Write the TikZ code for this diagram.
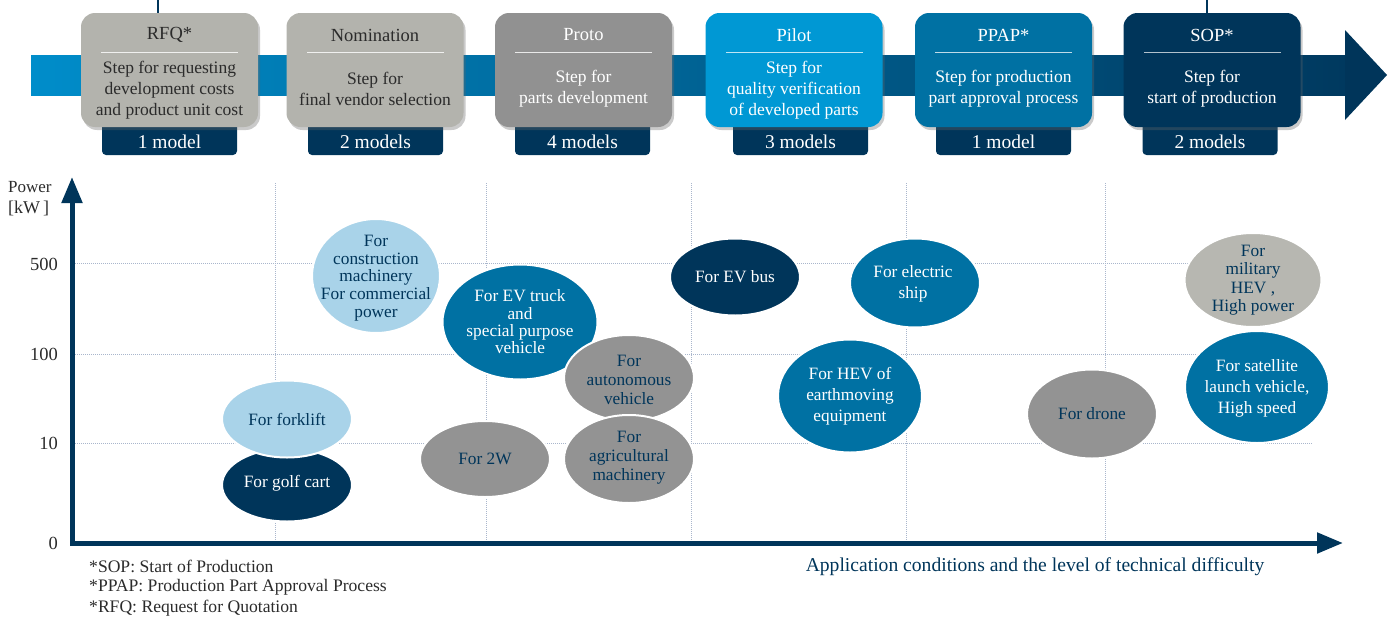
\documentclass[tikz,border=0pt]{standalone}
\usepackage{fontspec}
\setmainfont{Liberation Serif}
\usetikzlibrary{shadows,arrows.meta,shapes.geometric}

\definecolor{navy}{HTML}{00355A}
\definecolor{midblue}{HTML}{0071A3}
\definecolor{brightblue}{HTML}{0098D4}
\definecolor{paleblue}{HTML}{A9D3E9}
\definecolor{midgray}{HTML}{939393}
\definecolor{lightgray}{HTML}{B7B7B1}
\definecolor{boxgray}{HTML}{B3B3AD}
\definecolor{protogray}{HTML}{919191}
\definecolor{gridcol}{HTML}{A9B6CC}
\definecolor{inkgray}{HTML}{2B2B2B}
\definecolor{bandleft}{HTML}{008DCA}
\definecolor{bandright}{HTML}{00395F}

\begin{document}
\begin{tikzpicture}[x=1pt,y=-1pt,
  stepbox/.style={rectangle, rounded corners=14pt, minimum width=177pt,
    minimum height=114pt, inner sep=0pt,
    drop shadow={shadow xshift=2pt, shadow yshift=-3pt, opacity=0.35, fill=black!60}},
  tabbox/.style={rectangle, rounded corners=4pt, fill=navy, minimum width=135pt,
    minimum height=36pt, inner sep=0pt},
  tabtext/.style={text=white, font=\fontsize{19.5}{21}\selectfont, inner sep=0pt},
  steptitle/.style={font=\fontsize{18.5}{20}\selectfont, inner sep=0pt},
  stepbody/.style={font=\fontsize{17.5}{21}\selectfont, align=center, inner sep=0pt},
  sepline/.style={line width=1pt},
  toptick/.style={draw=navy, line width=1.2pt},
  gridline/.style={draw=gridcol, line width=0.9pt, dash pattern=on 1pt off 1pt},
  axisline/.style={draw=navy, line width=5pt, line join=miter,
    {Triangle[width=20pt,length=26pt]}-{Triangle[width=20pt,length=26pt]}},
  ell/.style={ellipse, draw=white, line width=2pt, inner sep=0pt},
  etext/.style={font=\fontsize{17.3}{19}\selectfont, align=center, inner sep=0pt},
  ticklab/.style={anchor=east, text=inkgray, font=\fontsize{18.5}{20}\selectfont, inner sep=0pt},
  note/.style={anchor=west, text=inkgray, font=\fontsize{17.6}{19}\selectfont, inner sep=0pt}
]
\useasboundingbox (0,0) rectangle (1392,621);

% ---------- process band ----------
\shade[left color=bandleft, right color=bandright] (31,55) rectangle (1346,95);
\fill[navy] (1345,30) -- (1387,75) -- (1345,120) -- cycle;

% ---------- model count tabs ----------
\node[tabbox] (tab1) at (169.5,137) {};
\node[tabbox] (tab2) at (375.5,137) {};
\node[tabbox] (tab3) at (582.5,137) {};
\node[tabbox] (tab4) at (800.5,137) {};
\node[tabbox] (tab5) at (1003.5,137) {};
\node[tabbox] (tab6) at (1210,137) {};
\node[tabtext] (tab1t) at (169.5,142) {1 model};
\node[tabtext] (tab2t) at (375.5,142) {2 models};
\node[tabtext] (tab3t) at (582.5,142) {4 models};
\node[tabtext] (tab4t) at (800.5,142) {3 models};
\node[tabtext] (tab5t) at (1003.5,142) {1 model};
\node[tabtext] (tab6t) at (1210,142) {2 models};

% ---------- step boxes ----------
\node[stepbox, fill=boxgray] (b1) at (169.5,70) {};
\node[steptitle, text=inkgray] (b1t) at (169.5,35) {RFQ*};
\draw[sepline, draw=white!80!boxgray] (101,52) -- (238,52);
\node[stepbody, text=inkgray] (b1b) at (169.5,90) {Step for requesting\\development costs\\and product unit cost};

\node[stepbox, fill=boxgray] (b2) at (375,70) {};
\node[steptitle, text=inkgray] (b2t) at (375,35) {Nomination};
\draw[sepline, draw=white!80!boxgray] (307,52) -- (444,52);
\node[stepbody, text=inkgray] (b2b) at (375,89) {Step for\\final vendor selection};

\node[stepbox, fill=protogray] (b3) at (583.5,70) {};
\node[steptitle, text=white] (b3t) at (583.5,35) {Proto};
\draw[sepline, draw=white!80!protogray] (515,52) -- (652,52);
\node[stepbody, text=white] (b3b) at (583.5,89) {Step for\\parts development};

\node[stepbox, fill=brightblue] (b4) at (794,70) {};
\node[steptitle, text=white] (b4t) at (794,35) {Pilot};
\draw[sepline, draw=white!75!brightblue] (726,52) -- (863,52);
\node[stepbody, text=white] (b4b) at (794,90) {Step for\\quality verification\\of developed parts};

\node[stepbox, fill=midblue] (b5) at (1003.5,70) {};
\node[steptitle, text=white] (b5t) at (1003.5,35) {PPAP*};
\draw[sepline, draw=white!75!midblue] (935,52) -- (1072,52);
\node[stepbody, text=white] (b5b) at (1003.5,89) {Step for production\\part approval process};

\node[stepbox, fill=navy] (b6) at (1212,70) {};
\node[steptitle, text=white] (b6t) at (1212,35) {SOP*};
\draw[sepline, draw=white!70!navy] (1144,52) -- (1281,52);
\node[stepbody, text=white] (b6b) at (1212,89) {Step for\\start of production};

% thin leads above the first and last steps
\coordinate (rfqlead) at (158,0);
\coordinate (soplead) at (1207,0);
\draw[toptick] (rfqlead) -- (rfqlead |- b1.north);
\draw[toptick] (soplead) -- (soplead |- b6.north);

% ---------- chart grid ----------
\foreach \gy in {263,354,443}
  \draw[gridline] (75,\gy) -- (1312,\gy);
\foreach \gx in {275,486,691,906,1105}
  \draw[gridline] (\gx,183) -- (\gx,541);

% ---------- axes ----------
\coordinate (O) at (72,543);
\coordinate (ytop) at (72,177);
\coordinate (xend) at (1343,543);
\draw[axisline] (ytop) -- (O) -- (xend);

\node[text=inkgray, font=\fontsize{17}{18}\selectfont, anchor=west, inner sep=0pt] (ylab1) at (8,187) {Power};
\node[text=inkgray, font=\fontsize{18}{18}\selectfont, anchor=west, inner sep=0pt] (ylab2) at (8,208) {[kW\,]};
\node[ticklab] (t500) at (58,264) {500};
\node[ticklab] (t100) at (58,354) {100};
\node[ticklab] (t10) at (58,443) {10};
\node[ticklab] (t0) at (58,543) {0};

\node[text=navy, font=\fontsize{19.6}{21}\selectfont, inner sep=0pt] (xlab) at (1035,567)
  {Application conditions and the level of technical difficulty};

% ---------- application bubbles ----------
\node[ell, fill=paleblue, minimum width=128pt, minimum height=114pt] (constr) at (376,276) {};
\node[etext, text=navy, font=\fontsize{17.3}{17.7}\selectfont] (constrt) at (376,278) {For\\construction\\machinery\\For commercial\\power};

\node[ell, fill=navy, minimum width=130pt, minimum height=73pt] (golf) at (287,485) {};
\node[etext, text=white] (golft) at (287,483) {For golf cart};
\node[ell, fill=paleblue, minimum width=130pt, minimum height=77pt] (fork) at (287,419) {};
\node[etext, text=navy] (forkt) at (287,419) {For forklift};

\node[ell, fill=midblue, minimum width=155pt, minimum height=115pt] (truck) at (520,322) {};
\node[etext, text=white, font=\fontsize{17.3}{17.3}\selectfont] (truckt) at (520,322) {For EV truck\\and\\special purpose\\vehicle};

\node[ell, fill=midgray, minimum width=130pt, minimum height=76pt] (twow) at (485,459) {};
\node[etext, text=navy] (twowt) at (485,459) {For 2W};

\node[ell, fill=midgray, minimum width=130pt, minimum height=86pt] (auton) at (629,378) {};
\node[etext, text=navy] (autont) at (629,380) {For\\autonomous\\vehicle};
\node[ell, fill=midgray, minimum width=130pt, minimum height=88pt] (agri) at (629,459) {};
\node[etext, text=navy] (agrit) at (629,458) {For\\agricultural\\machinery};

\node[ell, fill=navy, minimum width=130pt, minimum height=77pt] (bus) at (735,277) {};
\node[etext, text=white] (bust) at (735,277) {For EV bus};

\node[ell, fill=midblue, minimum width=130pt, minimum height=89pt] (ship) at (915,283) {};
\node[etext, text=white, font=\fontsize{17.3}{21}\selectfont] (shipt) at (913,284) {For electric\\ship};

\node[ell, fill=midblue, minimum width=144pt, minimum height=113pt] (hev) at (850,396) {};
\node[etext, text=white, font=\fontsize{17.3}{21}\selectfont] (hevt) at (850,396) {For HEV of\\earthmoving\\equipment};

\node[ell, fill=midgray, minimum width=130pt, minimum height=89pt] (drone) at (1092,414) {};
\node[etext, text=navy] (dronet) at (1092,414) {For drone};

\node[ell, fill=lightgray, minimum width=137pt, minimum height=94pt] (milit) at (1253,280) {};
\node[etext, text=navy, font=\fontsize{17.3}{18.5}\selectfont] (militt) at (1253,280) {For\\military\\HEV ,\\High power};

\node[ell, fill=midblue, minimum width=144pt, minimum height=112pt] (sat) at (1257,387) {};
\node[etext, text=white, font=\fontsize{17.3}{21}\selectfont] (satt) at (1257,388) {For satellite\\launch vehicle,\\High speed};

% ---------- footnotes ----------
\node[note] (n1) at (89,566) {*SOP: Start of Production};
\node[note] (n2) at (89,587) {*PPAP: Production Part Approval Process};
\node[note] (n3) at (89,608) {*RFQ: Request for Quotation};

\end{tikzpicture}
\end{document}
